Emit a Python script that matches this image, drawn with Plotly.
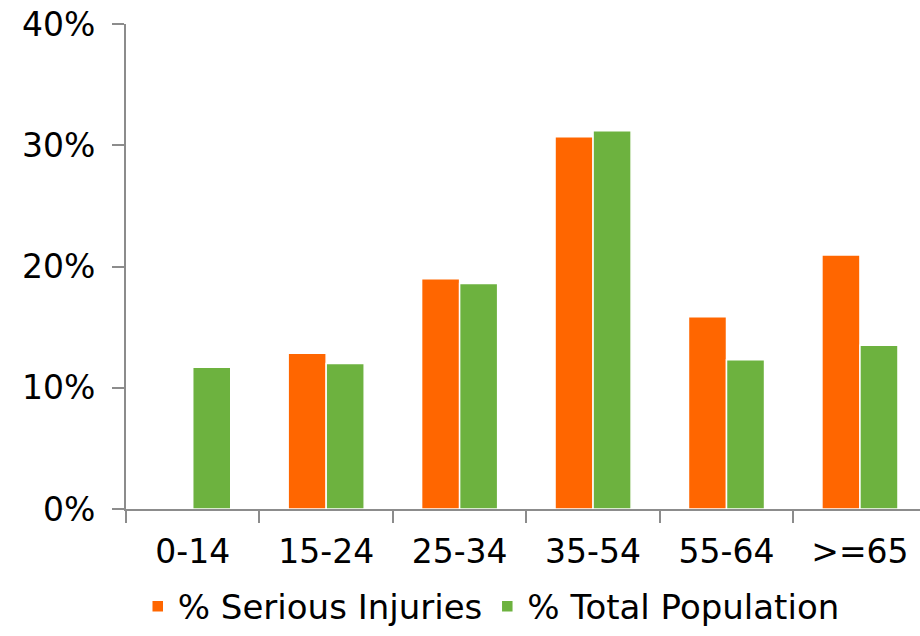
import plotly.graph_objects as go

age_groups = ["0-14", "15-24", "25-34", "35-54", "55-64", ">=65"]
serious_injuries = [None, 12.85, 19.0, 30.7, 15.85, 20.95]
total_population = [11.7, 12.0, 18.6, 31.2, 12.3, 13.5]
y_ticks = [0, 10, 20, 30, 40]
y_tick_labels = ["0%", "10%", "20%", "30%", "40%"]

FONT = "'DejaVu Sans', sans-serif"
ORANGE = "#FF6600"
GREEN = "#6DB23F"

fig = go.Figure()
fig.add_trace(go.Bar(
    x=age_groups, y=serious_injuries, name="% Serious Injuries",
    marker=dict(color=ORANGE, line=dict(color="white", width=1.5)),
))
fig.add_trace(go.Bar(
    x=age_groups, y=total_population, name="% Total Population",
    marker=dict(color=GREEN, line=dict(color="white", width=1.5)),
))

fig.update_layout(
    width=920, height=636,
    margin=dict(l=126, r=0, t=24, b=127),
    paper_bgcolor="white", plot_bgcolor="white",
    barmode="group", bargap=0.43, bargroupgap=0,
    font=dict(family=FONT, size=33, color="black"),
    showlegend=True,
    legend=dict(
        orientation="h", x=0.46, xanchor="center", y=-0.261, yanchor="bottom",
        font=dict(size=34), itemwidth=30, tracegroupgap=0, borderwidth=0,
    ),
    xaxis=dict(
        type="category", range=[-0.5, 5.45], automargin=False,
        showline=True, linecolor="#8C8C8C", linewidth=2,
        ticks="outside", tickson="boundaries", ticklen=12,
        tickcolor="#8C8C8C", tickwidth=2, ticklabelstandoff=12,
        showgrid=False, zeroline=False,
        tickfont=dict(size=33),
    ),
    yaxis=dict(
        range=[0, 40], tickvals=y_ticks, ticktext=y_tick_labels, automargin=False,
        showline=True, linecolor="#8C8C8C", linewidth=2,
        ticks="outside", ticklen=12, tickcolor="#8C8C8C", tickwidth=2,
        ticklabelstandoff=10,
        showgrid=False, zeroline=False,
        tickfont=dict(size=33),
    ),
)

fig.write_html("out.html")
